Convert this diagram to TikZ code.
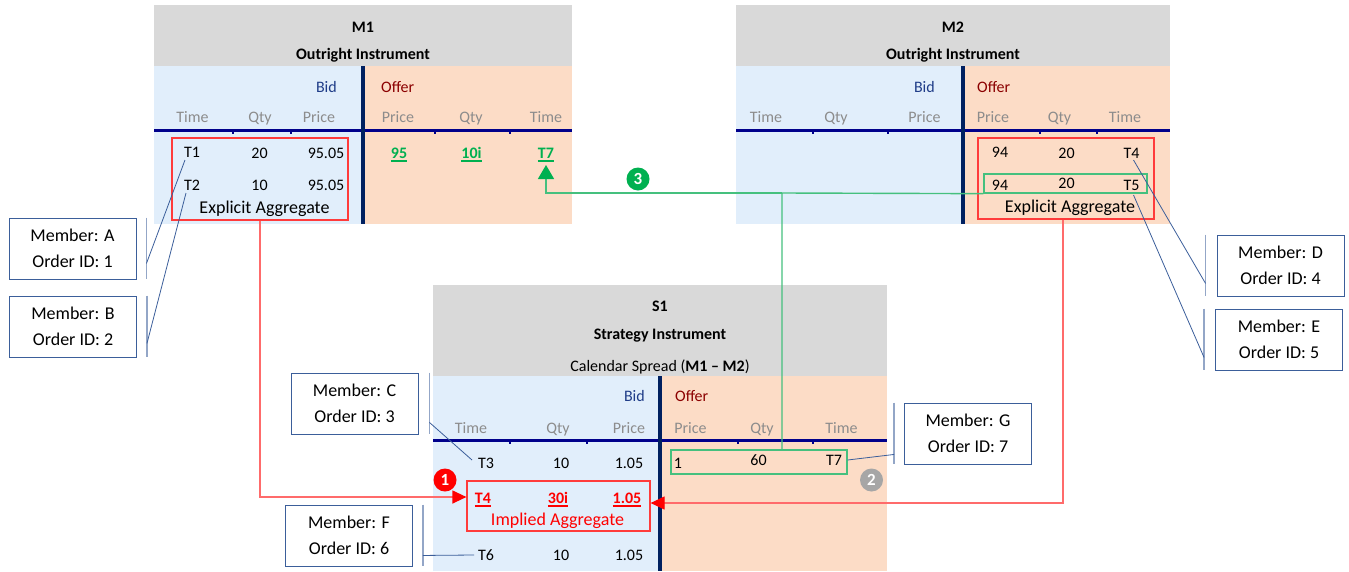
\documentclass[tikz,border=0pt]{standalone}
\usepackage{fontspec}
\setmainfont{Carlito}
\usetikzlibrary{arrows.meta,calc,positioning}

\definecolor{hdrgray}{HTML}{D9D9D9}
\definecolor{bidblue}{HTML}{E1EEFB}
\definecolor{offerpeach}{HTML}{FCDCC6}
\definecolor{navyline}{HTML}{002060}
\definecolor{rowline}{HTML}{00008B}
\definecolor{bidtext}{HTML}{1F3C88}
\definecolor{offertext}{HTML}{8B0000}
\definecolor{colgray}{HTML}{8C8C8C}
\definecolor{calloutblue}{HTML}{3B5E9A}
\definecolor{impgreen}{HTML}{00B050}
\definecolor{linkgreen}{HTML}{45C07E}
\definecolor{aggred}{HTML}{FF3B3B}
\definecolor{linkred}{HTML}{FF6B6B}
\definecolor{badgegray}{HTML}{A6A6A6}

\newcommand{\undl}[1]{\setbox0=\hbox{#1}\rlap{\rule[-3.5pt]{\wd0}{1.5pt}}\box0}

\begin{document}
\begin{tikzpicture}[
    x=1pt, y=-1pt,
    font=\fontsize{16}{19}\selectfont,
    txt/.style={inner sep=0pt, text height=10.3pt, text depth=0pt},
    title/.style={txt, font=\fontsize{16}{19}\selectfont\bfseries},
    colhead/.style={txt, text=colgray},
    bidlabel/.style={txt, text=bidtext, anchor=east},
    offerlabel/.style={txt, text=offertext, anchor=west},
    impgreentxt/.style={txt, text=impgreen, font=\fontsize{16}{19}\selectfont\bfseries},
    impredtxt/.style={txt, text=red, font=\fontsize{16}{19}\selectfont\bfseries},
    aggtext/.style={txt, text height=11.6pt, font=\fontsize{18}{22}\selectfont},
    aggbox/.style={draw=aggred, line width=1.2pt, inner sep=0pt},
    matchbox/.style={draw=linkgreen, line width=1.3pt, inner sep=0pt},
    member/.style={draw=calloutblue, line width=0.9pt, align=center, minimum width=127pt,
        minimum height=61pt, inner sep=0pt, font=\fontsize{18}{26}\selectfont},
    bar/.style={draw=calloutblue!55, line width=1.3pt},
    leader/.style={draw=calloutblue, line width=0.8pt},
    divider/.style={draw=navyline, line width=4pt},
    rowrule/.style={draw=rowline, line width=3pt},
    tick/.style={draw=rowline, line width=2.5pt},
    badge/.style={circle, minimum size=23pt, inner sep=0pt, text=white,
        font=\fontsize{17}{17}\selectfont\bfseries},
    redlink/.style={draw=linkred, line width=1.2pt},
    greenlink/.style={draw=linkgreen, line width=1.4pt}
]
\useasboundingbox (0,0) rectangle (1349,571);

% M1 book
\fill[hdrgray] (154,5) rectangle (572,66);
\fill[bidblue] (154,66) rectangle (363,224);
\fill[offerpeach] (363,66) rectangle (572,224);
\draw[rowrule] (154,130) -- (572,130);
\draw[tick] (233,130) -- ++(0,4) (291,130) -- ++(0,4) (435,130) -- ++(0,4) (510,130) -- ++(0,4);
\draw[divider] (363,66) -- (363,224);

\node[title] (m1name) at (363,27) {M1};
\node[title] (m1kind) at (363,54) {Outright Instrument};
\node[bidlabel] (m1bid) at (337,87) {Bid};
\node[offerlabel] (m1offer) at (381,87) {Offer};
\node[colhead] (m1h1) at (192.5,117) {Time};
\node[colhead] (m1h2) at (260,117) {Qty};
\node[colhead] (m1h3) at (319,117) {Price};
\node[colhead] (m1h4) at (398,117) {Price};
\node[colhead] (m1h5) at (471,117) {Qty};
\node[colhead] (m1h6) at (546,117) {Time};

\node[txt] (m1t1) at (192,152) {T1};
\node[txt] (m1q1) at (259.5,153) {20};
\node[txt] (m1p1) at (326,153) {95.05};
\node[txt] (m1t2) at (192,185) {T2};
\node[txt] (m1q2) at (259.5,185) {10};
\node[txt] (m1p2) at (326,185) {95.05};
\node[impgreentxt] (m1op) at (399,153) {\undl{95}};
\node[impgreentxt] (m1oq) at (471.5,153) {\undl{10i}};
\node[impgreentxt] (m1t7) at (546,153) {\undl{T7}};
\node[aggtext] (m1agglabel) at (264.5,208) {Explicit Aggregate};
\node[aggbox, minimum width=176pt, minimum height=82pt] (m1agg) at (260,179) {};

% M2 book
\fill[hdrgray] (736,5) rectangle (1170,66);
\fill[bidblue] (736,66) rectangle (963,224);
\fill[offerpeach] (963,66) rectangle (1170,224);
\draw[rowrule] (736,130) -- (1170,130);
\draw[tick] (813,130) -- ++(0,4) (888,130) -- ++(0,4) (1040,130) -- ++(0,4) (1097,130) -- ++(0,4);
\draw[divider] (963,66) -- (963,224);

\node[title] (m2name) at (953,27) {M2};
\node[title] (m2kind) at (953,54) {Outright Instrument};
\node[bidlabel] (m2bid) at (935,87) {Bid};
\node[offerlabel] (m2offer) at (977,87) {Offer};
\node[colhead] (m2h1) at (766,117) {Time};
\node[colhead] (m2h2) at (836,117) {Qty};
\node[colhead] (m2h3) at (924.5,117) {Price};
\node[colhead] (m2h4) at (993,117) {Price};
\node[colhead] (m2h5) at (1059.5,117) {Qty};
\node[colhead] (m2h6) at (1125,117) {Time};

\node[txt] (m2p4) at (1000,152) {94};
\node[txt] (m2q4) at (1066.5,153) {20};
\node[txt] (m2t4) at (1131.5,153) {T4};
\node[txt] (m2p5) at (1000,185) {94};
\node[txt] (m2q5) at (1066.5,183) {20};
\node[txt] (m2t5) at (1131.5,185) {T5};
\node[aggtext] (m2agglabel) at (1070,207) {Explicit Aggregate};
\node[aggbox, minimum width=176pt, minimum height=81pt] (m2agg) at (1066,178.5) {};
\node[matchbox, minimum width=163pt, minimum height=19pt] (m2g) at (1065.5,183.5) {};

% S1 book
\fill[hdrgray] (433,285) rectangle (887,376);
\fill[bidblue] (433,376) rectangle (660,571);
\fill[offerpeach] (660,376) rectangle (887,571);
\draw[rowrule] (433,440) -- (887,440);
\draw[tick] (510,440) -- ++(0,4) (587,440) -- ++(0,4) (738,440) -- ++(0,4) (813,440) -- ++(0,4);
\draw[divider] (660,376) -- (660,571);

\node[title] (s1name) at (660,306) {S1};
\node[title] (s1kind) at (660,334) {Strategy Instrument};
\node[txt] (s1legs) at (660,366) {Calendar Spread (\textbf{M1 – M2})};
\node[bidlabel] (s1bid) at (645,396) {Bid};
\node[offerlabel] (s1offer) at (675,396) {Offer};
\node[colhead] (s1h1) at (471,428) {Time};
\node[colhead] (s1h2) at (558,428) {Qty};
\node[colhead] (s1h3) at (629,428) {Price};
\node[colhead] (s1h4) at (690.5,428) {Price};
\node[colhead] (s1h5) at (762,428) {Qty};
\node[colhead] (s1h6) at (841.5,428) {Time};

\node[txt] (s1t3) at (486,463) {T3};
\node[txt] (s1q3) at (561,463) {10};
\node[txt] (s1p3) at (629,463) {1.05};
\node[impredtxt] (s1t4) at (483,498) {\undl{T4}};
\node[impredtxt] (s1q4) at (558,498) {\undl{30i}};
\node[impredtxt] (s1p4) at (627,498) {\undl{1.05}};
\node[aggtext, text=red] (s1agglabel) at (557.5,520) {Implied Aggregate};
\node[aggbox, minimum width=183pt, minimum height=50pt] (s1agg) at (558.5,506) {};
\node[txt] (s1t6) at (486,555) {T6};
\node[txt] (s1q6) at (561,555) {10};
\node[txt] (s1p6) at (629,555) {1.05};

\node[txt] (s1op) at (678,463) {1};
\node[txt] (s1oq) at (758.5,460) {60};
\node[txt] (s1t7) at (834,460) {T7};
\node[matchbox, minimum width=176pt, minimum height=24pt] (s1g) at (759,462) {};

% members
\node[member] (mema) at (72.5,248.5) {Member: A\\Order ID: 1};
\node[member] (memb) at (73,326.5) {Member: B\\Order ID: 2};
\node[member] (memc) at (354.5,403.5) {Member: C\\Order ID: 3};
\node[member] (memf) at (349,535.5) {Member: F\\Order ID: 6};
\node[member] (memg) at (968,433.5) {Member: G\\Order ID: 7};
\node[member] (memd) at (1280.5,265.5) {Member: D\\Order ID: 4};
\node[member] (meme) at (1279,339.5) {Member: E\\Order ID: 5};

\draw[bar] ([xshift=10pt]mema.north east) -- ([xshift=10pt]mema.south east);
\draw[bar] ([xshift=10pt]memb.north east) -- ([xshift=10pt]memb.south east);
\draw[bar] ([xshift=11pt]memc.north east) -- ([xshift=11pt]memc.south east);
\draw[bar] ([xshift=10pt]memf.north east) -- ([xshift=10pt]memf.south east);
\draw[bar] ([xshift=-10pt]memg.north west) -- ([xshift=-10pt]memg.south west);
\draw[bar] ([xshift=-11pt]memd.north west) -- ([xshift=-11pt]memd.south west);
\draw[bar] ([xshift=-11pt]meme.north west) -- ([xshift=-11pt]meme.south west);

\draw[leader] ([shift={(-7pt,-8pt)}]m1t1.center) -- ([shift={(10pt,16pt)}]mema.south east);
\draw[leader] ([shift={(-6pt,-8pt)}]m1t2.center) -- ([shift={(10pt,14pt)}]memb.south east);
\draw[leader] ([shift={(-14pt,3pt)}]s1t3.center) -- ([shift={(11pt,12pt)}]memc.south east);
\draw[leader] ([xshift=-12pt]s1t6.center) -- ([shift={(10pt,11pt)}]memf.south east);
\draw[leader] ([yshift=2pt]s1g.east) -- ([shift={(-10pt,10pt)}]memg.south west);
\draw[leader] ([shift={(2pt,-7pt)}]m2t4.center) -- ([shift={(-11pt,13pt)}]memd.south west);
\draw[leader] ([shift={(2pt,-10pt)}]m2t5.center) -- ([shift={(-11pt,13pt)}]meme.south west);

% implied links
\draw[redlink, -{Triangle[width=13pt,length=14pt,color=red]}] (m1agg.south) |- ([yshift=9pt]s1agg.west);
\draw[redlink, -{Triangle[width=13pt,length=14pt,color=red]}] ([xshift=-3pt]m2agg.south) |- ([yshift=3pt]s1agg.east);

\coordinate (gsplit) at (782,193);
\draw[greenlink] (m2g.south west) -- (gsplit) -- (gsplit |- s1g.north);
\draw[greenlink, -{Triangle[width=16pt,length=14pt,color=impgreen]}] (gsplit) -| ([yshift=-12pt]m1t7.center);

\node[badge, fill=red] (step1) at (445,480) {1};
\node[badge, fill=badgegray] (step2) at (871.5,480) {2};
\node[badge, fill=impgreen] (step3) at (638,179) {3};

\end{tikzpicture}
\end{document}
